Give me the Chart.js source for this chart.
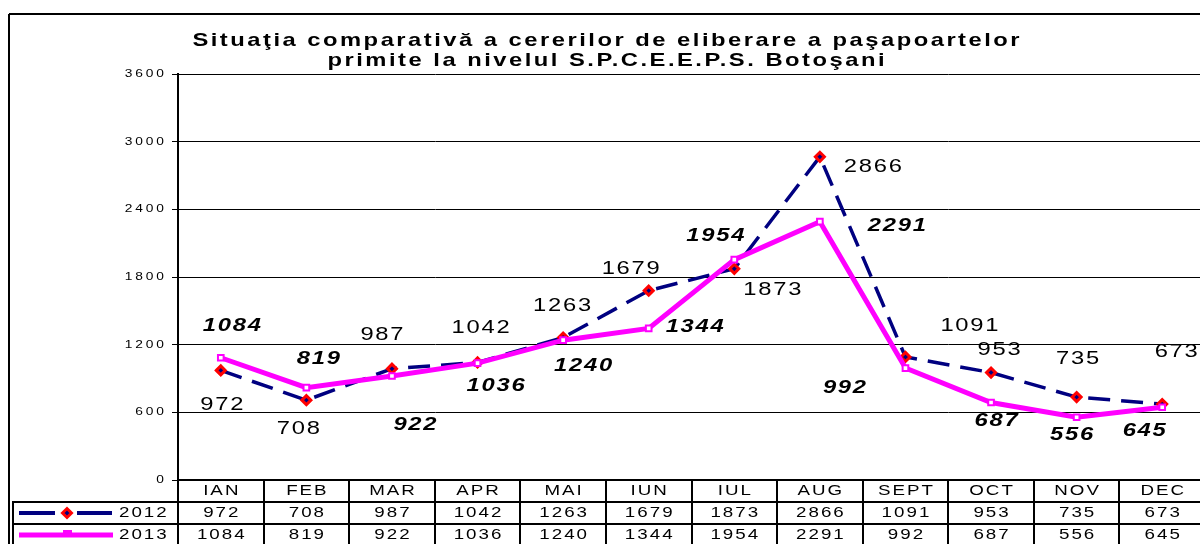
<!DOCTYPE html>
<html><head><meta charset="utf-8">
<script src="https://cdn.jsdelivr.net/npm/chart.js@4.4.1/dist/chart.umd.min.js"></script>
<style>html,body{margin:0;padding:0;background:#fff;overflow:hidden;width:1200px;height:544px;}#wrap{position:absolute;left:0;top:0;width:1215px;height:544px;}</style>
</head><body><div id="wrap"><canvas id="c" width="1215" height="544"></canvas></div>
<script>
const titleLines = ['Situaţia comparativă a cererilor de eliberare a paşapoartelor', 'primite la nivelul S.P.C.E.E.P.S. Botoşani'];
const months = ['IAN','FEB','MAR','APR','MAI','IUN','IUL','AUG','SEPT','OCT','NOV','DEC'];
const seriesNames = ['2012','2013'];
const values2012 = [972,708,987,1042,1263,1679,1873,2866,1091,953,735,673];
const values2013 = [1084,819,922,1036,1240,1344,1954,2291,992,687,556,645];
const yTicks = [0,600,1200,1800,2400,3000,3600];

// label placement offsets (dx, dy) in px from each point
const labelOffsets2012 = [[1,34],[-8,29],[-10,-34],[3,-35],[-1,-32],[-18,-22],[38,21],[53,10],[64,-31],[8,-23],[1,-38],[14,-52]];
const labelOffsets2013 = [[11,-32],[12,-29],[23,49],[18,23],[20,26],[46,-2],[-19,-24],[77,4],[-61,20],[5,18],[-5,17],[-18,24]];

const FONT = '"Liberation Sans", Arial, sans-serif';
const SX = 1.25; // horizontal stretch of the original picture's text

function drawText(ctx, text, x, y, spacing, align) {
  ctx.letterSpacing = spacing + 'px';
  ctx.textBaseline = 'middle';
  ctx.textAlign = 'left';
  const w = (ctx.measureText(text).width - spacing) * SX;
  let x0 = x;
  if (align === 'center') x0 = x - w / 2;
  else if (align === 'right') x0 = x - w;
  ctx.save();
  ctx.translate(x0, y);
  ctx.scale(SX, 1);
  ctx.fillText(text, 0, 0);
  ctx.restore();
}
function line(ctx, x1, y1, x2, y2) {
  ctx.beginPath(); ctx.moveTo(x1, y1); ctx.lineTo(x2, y2); ctx.stroke();
}

const decor = {
  id: 'decor',
  beforeDraw(chart) { chart.ctx.letterSpacing = '0px'; },
  afterDraw(chart) {
    const ctx = chart.ctx, a = chart.chartArea, xs = chart.scales.x, ys = chart.scales.y;
    const n = months.length, colW = (a.right - a.left) / n;
    const rowH = 22, top = a.bottom;
    ctx.save();
    ctx.fillStyle = '#000';
    // title
    ctx.font = 'bold 19px ' + FONT;
    titleLines.forEach((t, i) => drawText(ctx, t, 606, 41 + i * 20, 2, 'center'));
    // y tick labels
    ctx.font = '11px ' + FONT;
    yTicks.forEach(v => drawText(ctx, String(v), 164, ys.getPixelForValue(v), 2.3, 'right'));
    // outer border
    ctx.strokeStyle = '#000'; ctx.lineWidth = 2;
    line(ctx, 9, 14, chart.width, 14);
    line(ctx, 9, 14, 9, chart.height);
    // data table grid
    line(ctx, a.left, top, a.right, top);
    line(ctx, 12, top + rowH, a.right, top + rowH);
    line(ctx, 12, top + 2 * rowH, a.right, top + 2 * rowH);
    line(ctx, 13, top + rowH, 13, chart.height);
    for (let i = 0; i <= n; i++) {
      const x = Math.round(a.left + i * colW);
      line(ctx, x, i === 0 ? a.top : top, x, chart.height);
    }
    // table text
    ctx.font = '15px ' + FONT;
    months.forEach((m, i) => {
      const cx = xs.getPixelForValue(i);
      drawText(ctx, m, cx, top + rowH / 2, 1.6, 'center');
      drawText(ctx, String(values2012[i]), cx, top + 1.5 * rowH, 1.6, 'center');
      drawText(ctx, String(values2013[i]), cx, top + 2.5 * rowH, 1.6, 'center');
    });
    // legend keys in table
    const ds = chart.data.datasets;
    const y1 = top + 1.5 * rowH, y2 = top + 2.5 * rowH;
    ctx.lineWidth = 4; ctx.strokeStyle = ds[0].borderColor;
    line(ctx, 19, y1, 55, y1); line(ctx, 77, y1, 112, y1);
    ctx.fillStyle = ds[0].pointBackgroundColor; ctx.strokeStyle = ds[0].pointBorderColor; ctx.lineWidth = ds[0].pointBorderWidth;
    Chart.helpers.drawPoint(ctx, {pointStyle: 'rectRot', radius: ds[0].pointRadius, borderWidth: ds[0].pointBorderWidth, rotation: 0}, 67, y1);
    ctx.lineWidth = 5; ctx.strokeStyle = ds[1].borderColor;
    line(ctx, 19, y2, 113, y2);
    ctx.fillStyle = ds[1].borderColor;
    ctx.fillRect(63, y2 - 5, 9, 5);
    ctx.fillStyle = '#000';
    ctx.font = '15px ' + FONT;
    drawText(ctx, seriesNames[0], 119, y1, 1.6, 'left');
    drawText(ctx, seriesNames[1], 119, y2, 1.6, 'left');
    // data labels
    const m0 = chart.getDatasetMeta(0), m1 = chart.getDatasetMeta(1);
    ctx.font = '19px ' + FONT;
    m0.data.forEach((p, i) => drawText(ctx, String(values2012[i]), p.x + labelOffsets2012[i][0], p.y + labelOffsets2012[i][1], 1.4, 'center'));
    ctx.font = 'italic bold 19px ' + FONT;
    m1.data.forEach((p, i) => drawText(ctx, String(values2013[i]), p.x + labelOffsets2013[i][0], p.y + labelOffsets2013[i][1], 1.4, 'center'));
    ctx.restore();
  }
};

new Chart(document.getElementById('c'), {
  type: 'line',
  data: {
    labels: months,
    datasets: [
      {label: seriesNames[0], data: values2012, borderColor: '#000080', borderWidth: 3.5, borderDash: [22, 11],
       pointStyle: 'rectRot', pointRadius: 4.5, pointBackgroundColor: '#000080', pointBorderColor: '#ff0000', pointBorderWidth: 3,
       tension: 0, order: 1},
      {label: seriesNames[1], data: values2013, borderColor: '#ff00ff', borderWidth: 5,
       pointStyle: 'rect', pointRadius: 4, pointBackgroundColor: '#ffffff', pointBorderColor: '#ff00ff', pointBorderWidth: 2,
       tension: 0, order: 0}
    ]
  },
  options: {
    responsive: false, animation: false, events: [],
    layout: {padding: {top: 74, bottom: 64, left: 0, right: 10}},
    plugins: {legend: {display: false}, title: {display: false}, tooltip: {enabled: false}},
    scales: {
      x: {type: 'category', offset: true, display: false},
      y: {min: 0, max: 3600,
          afterBuildTicks: s => { s.ticks = yTicks.map(v => ({value: v})); },
          afterFit: s => { s.width = 178; },
          border: {color: '#000', width: 2},
          grid: {color: '#000', lineWidth: 1, tickLength: 6},
          ticks: {display: false}}
    }
  },
  plugins: [decor]
});
</script></body></html>
